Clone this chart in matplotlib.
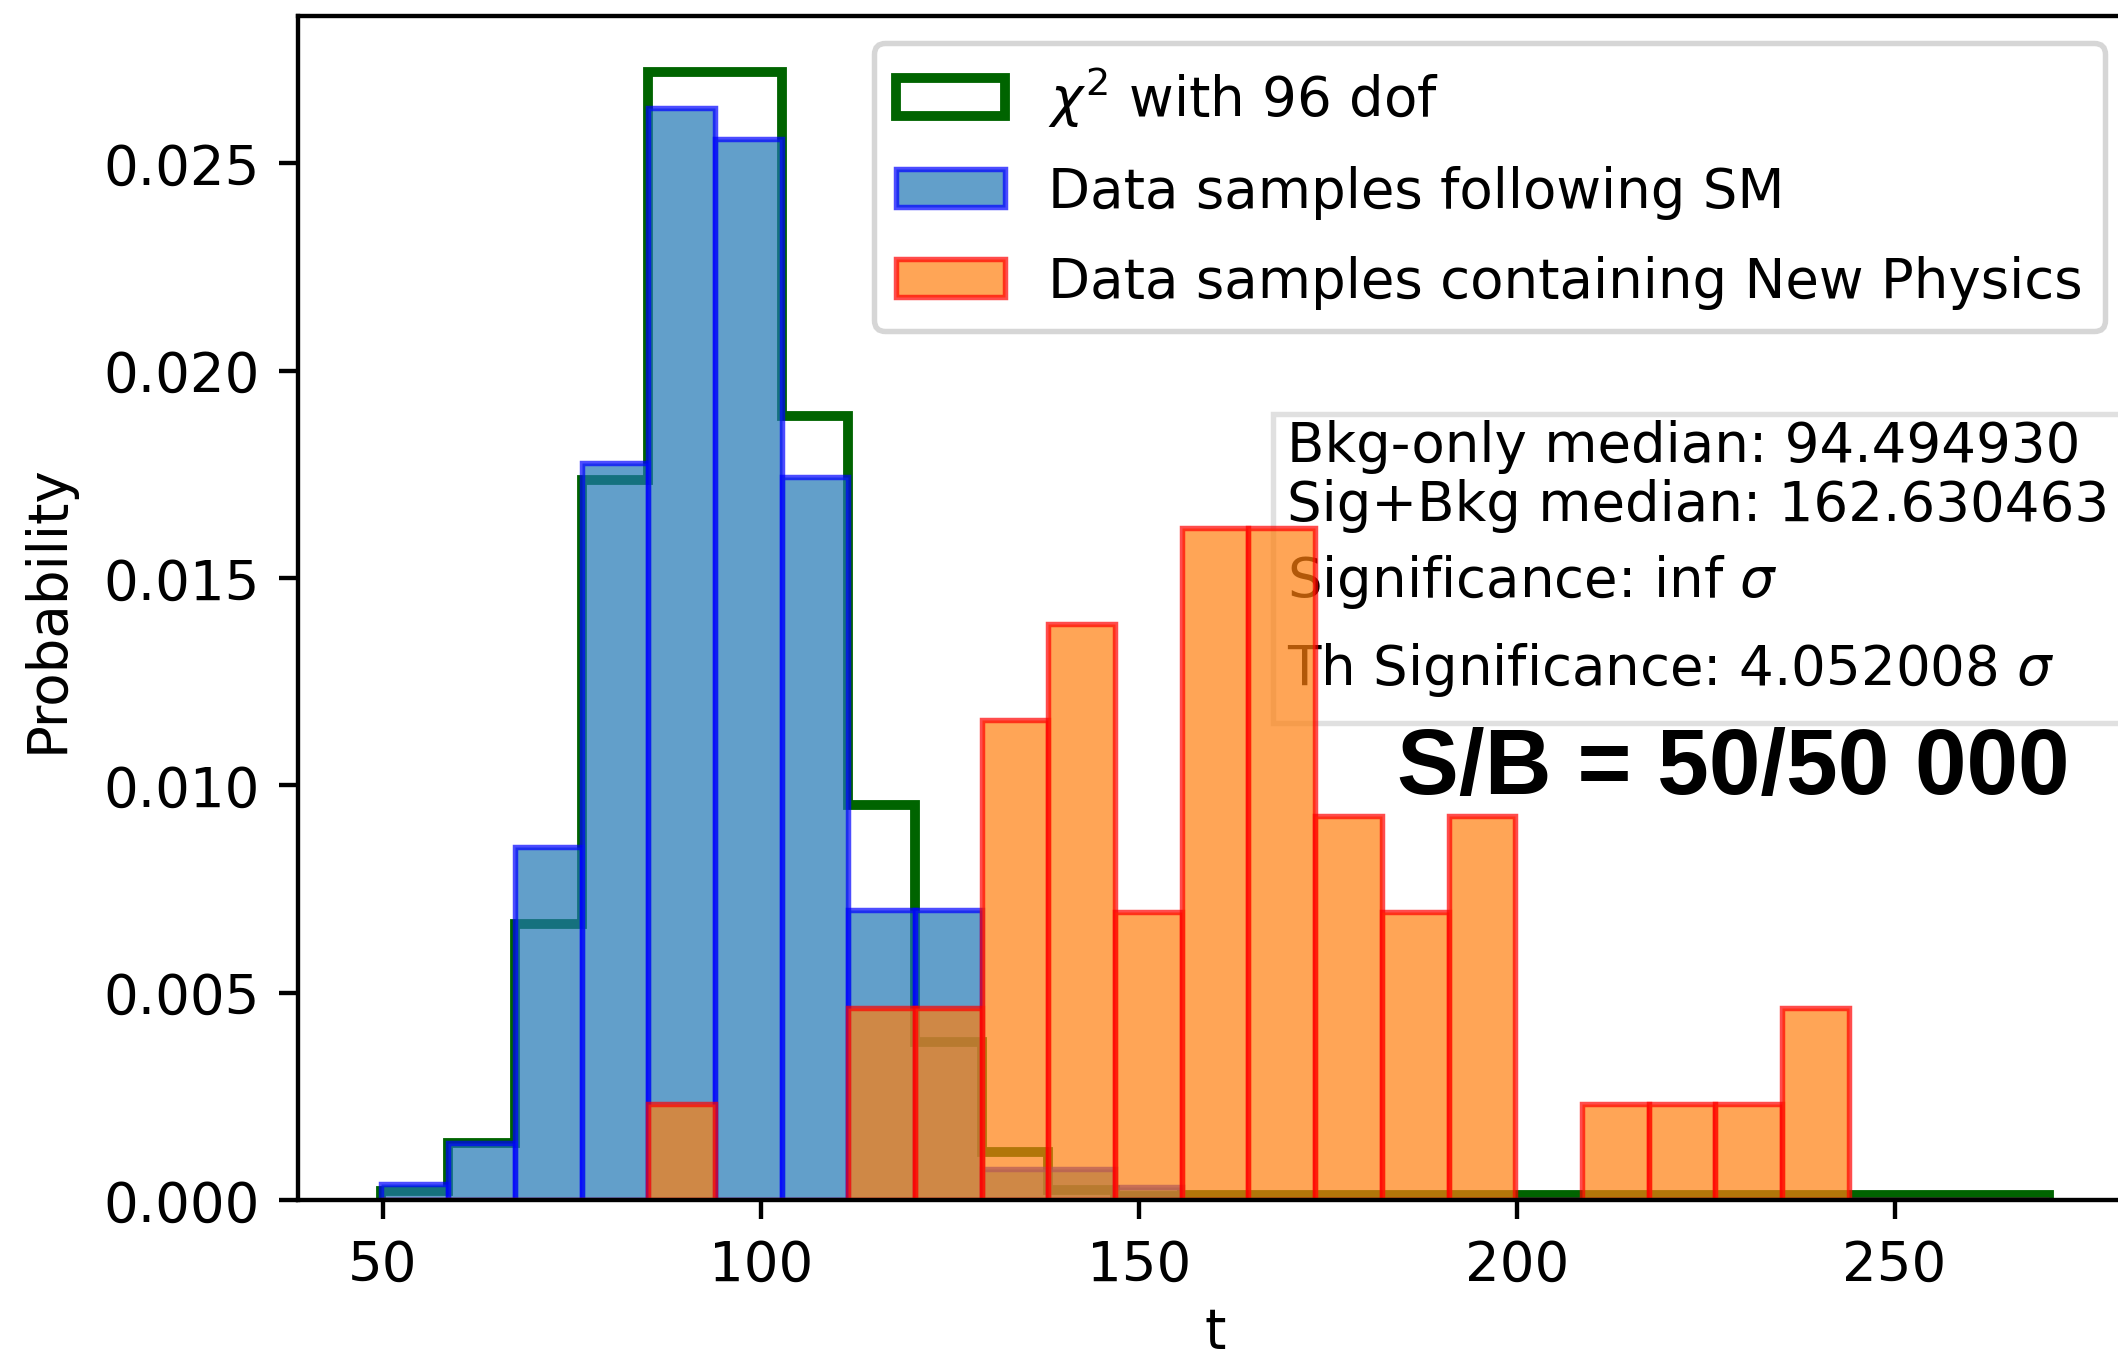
import numpy as np
import matplotlib
matplotlib.use("Agg")
import matplotlib.pyplot as plt
from matplotlib.patches import Rectangle

# ---- data ----
t_min, t_max, n_bins = 49.8, 270.4, 25
edges = np.linspace(t_min, t_max, n_bins + 1)
centers = 0.5 * (edges[:-1] + edges[1:])

# chi2 (96 dof) reference, probability density per bin
chi2_density = [0.00022, 0.00138, 0.00665, 0.01735, 0.02720, 0.02720, 0.01890,
                0.00952, 0.00380, 0.00116, 0.00023, 0.00010, 0.00012, 0.00012,
                0.00012, 0.00012, 0.00012, 0.00012, 0.00012, 0.00012, 0.00012,
                0.00012, 0.00012, 0.00012, 0.00012]
# data samples following SM
sm_density = [0.00038, 0.00138, 0.00850, 0.01778, 0.02632, 0.02558, 0.01742,
              0.00700, 0.00700, 0.00074, 0.00074, 0.00031, 0, 0, 0, 0, 0, 0,
              0, 0, 0, 0, 0, 0, 0]
# data samples containing New Physics
np_density = [0, 0, 0, 0, 0.00231, 0, 0, 0.00463, 0.00463, 0.01157, 0.01388,
              0.00694, 0.01620, 0.01620, 0.00925, 0.00694, 0.00925, 0, 0.00231,
              0.00231, 0.00231, 0.00463, 0, 0, 0]

labels = [r'$\chi^2$ with 96 dof', 'Data samples following SM',
          'Data samples containing New Physics']
info_lines = ["Bkg-only median: 94.494930",
              "Sig+Bkg median: 162.630463",
              "Significance: inf $\\sigma$",
              "Th Significance: 4.052008 $\\sigma$"]
sb_text = "S/B = 50/50 000"

# ---- figure ----
DPI = 393
W, H = 2118.5, 1358.5
fig = plt.figure(figsize=(W / DPI, H / DPI), dpi=DPI)
ax_left, ax_bottom, ax_right, ax_top = 0.1407, 0.11635, 1.00642, 0.98822
ax = fig.add_axes([ax_left, ax_bottom, ax_right - ax_left, ax_top - ax_bottom])

ax.hist(centers, bins=edges, weights=chi2_density, histtype='step',
        color='darkgreen', linewidth=1.8, label=labels[0], zorder=0.95)
ax.hist(centers, bins=edges, weights=sm_density, color='tab:blue',
        edgecolor='blue', alpha=0.7, linewidth=1.0, label=labels[1])
ax.hist(centers, bins=edges, weights=np_density, color='tab:orange',
        edgecolor='red', alpha=0.7, linewidth=1.0, label=labels[2])

ax.set_xlabel('t', labelpad=2.5)
ax.set_ylabel('Probability', labelpad=5.3)
ax.legend(loc='upper right', labelspacing=0.66)

# helpers: image pixel (from top-left) -> axes fraction
px_l, px_r = ax_left * W, ax_right * W
py_t, py_b = (1 - ax_top) * H, (1 - ax_bottom) * H


def fx(px):
    return (px - px_l) / (px_r - px_l)


def fy(py):
    return (py_b - py) / (py_b - py_t)


box = Rectangle((fx(1273), fy(723)), fx(2250) - fx(1273), fy(415) - fy(723),
                transform=ax.transAxes, facecolor='white', edgecolor='0.85',
                linewidth=1.0, alpha=0.8, zorder=0.9)
ax.add_patch(box)
for line, base in zip(info_lines, [461.7, 520.7, 597.3, 685.0]):
    ax.text(fx(1287), fy(base), line, transform=ax.transAxes,
            va='baseline', ha='left', zorder=0.9)

fig.text(0.6596, 0.4153, sb_text, fontsize=17.0, fontweight='bold',
         family='Liberation Sans', va='baseline', ha='left')

fig.savefig('out.png', dpi=DPI)
